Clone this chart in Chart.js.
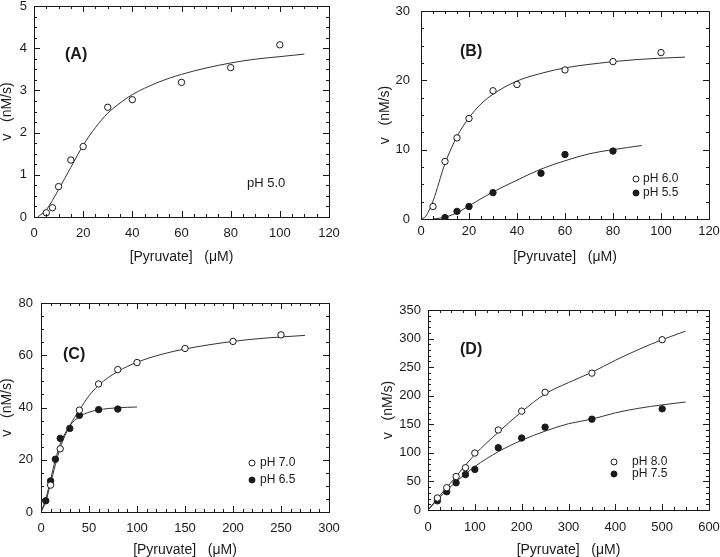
<!DOCTYPE html>
<html>
<head>
<meta charset="utf-8">
<script src="https://cdn.jsdelivr.net/npm/chart.js@4.4.1/dist/chart.umd.min.js"></script>
<style>
  body { margin: 0; background: #fff; width: 720px; height: 557px; position: relative; overflow: hidden; }
  canvas { position: absolute; }
</style>
</head>
<body>
<canvas id="chartA" width="360" height="270" style="left:0;top:0"></canvas>
<canvas id="chartB" width="360" height="270" style="left:360px;top:0"></canvas>
<canvas id="chartC" width="360" height="287" style="left:0;top:270px"></canvas>
<canvas id="chartD" width="360" height="287" style="left:360px;top:270px"></canvas>
<script>
// (A) pH 5.0
const aConc = [5, 7.5, 10, 15, 20, 30, 40, 60, 80, 100];
const aRate = [0.1, 0.22, 0.72, 1.35, 1.67, 2.6, 2.78, 3.19, 3.54, 4.08];
const aFitX = [1.5, 5, 10, 15, 20, 25, 30, 35, 40, 50, 60, 70, 80, 90, 100, 110];
const aFitY = [0, 0.17, 0.65, 1.18, 1.7, 2.12, 2.46, 2.7, 2.9, 3.18, 3.38, 3.53, 3.65, 3.74, 3.8, 3.86];

// (B) pH 6.0 (open) and pH 5.5 (filled)
const bConc60 = [5, 10, 15, 20, 30, 40, 60, 80, 100];
const bRate60 = [1.8, 8.3, 11.7, 14.5, 18.5, 19.4, 21.5, 22.7, 24.0];
const bConc55 = [10, 15, 20, 30, 50, 60, 80];
const bRate55 = [0.2, 1.1, 1.8, 3.8, 6.6, 9.3, 9.8];
const bFitX60 = [0, 2, 5, 10, 15, 20, 25, 30, 40, 50, 60, 70, 80, 90, 100, 110];
const bFitY60 = [0, 0.4, 2.6, 8.0, 11.9, 14.6, 16.6, 18.0, 19.9, 21.0, 21.8, 22.3, 22.7, 23.0, 23.2, 23.35];
const bFitX55 = [5, 10, 15, 20, 30, 40, 50, 60, 70, 80, 92];
const bFitY55 = [0, 0.25, 0.9, 1.9, 3.9, 5.6, 7.2, 8.4, 9.4, 10.0, 10.6];

// (C) pH 7.0 (open) and pH 6.5 (filled)
const cConc70 = [10, 20, 40, 60, 80, 100, 150, 200, 250];
const cRate70 = [10.3, 24.2, 39, 49, 54.5, 57.2, 62.6, 65.3, 67.8];
const cConc65 = [5, 10, 15, 20, 30, 40, 60, 80];
const cRate65 = [4.3, 11.9, 20.2, 28.2, 32, 37, 39.2, 39.4];
const cFitX70 = [0, 5, 10, 20, 30, 40, 50, 60, 80, 100, 125, 150, 175, 200, 225, 250, 275];
const cFitY70 = [0, 4, 11, 24.5, 33, 39, 44.5, 48.5, 53.8, 57.3, 60.3, 62.4, 64, 65.3, 66.3, 67, 67.6];
const cFitX65 = [0, 5, 10, 15, 20, 30, 40, 50, 60, 70, 80, 100];
const cFitY65 = [0, 5, 12.5, 20, 26, 33, 36.5, 38.2, 39.1, 39.6, 39.9, 40.2];

// (D) pH 8.0 (open) and pH 7.5 (filled)
const dConc80 = [20, 40, 60, 80, 100, 150, 200, 250, 350, 500];
const dRate80 = [21, 39, 58.6, 74, 99.7, 140, 173, 206, 239.5, 298];
const dConc75 = [20, 40, 60, 80, 100, 150, 200, 250, 350, 500];
const dRate75 = [16, 32, 47.6, 62, 71, 109, 126, 145, 159, 177];
const dFitX80 = [0, 25, 50, 100, 150, 200, 250, 300, 350, 400, 450, 500, 550];
const dFitY80 = [0, 25, 49, 97, 136, 172, 203, 223, 241, 262, 281, 298, 313];
const dFitX75 = [0, 25, 50, 100, 150, 200, 250, 300, 350, 400, 450, 500, 550];
const dFitY75 = [0, 22, 42, 76, 102, 122, 138, 151, 159, 170, 178, 184, 189];

const FONT = "'Liberation Sans', Arial, Helvetica, sans-serif";
const INK = "#1a1a1a";

function pts(xs, ys) {
    return xs.map((x, i) => ({ x: x, y: ys[i] }));
}

function markers(xs, ys, filled) {
    return {
        data: pts(xs, ys),
        showLine: false,
        pointRadius: 3.2,
        pointBorderWidth: 1,
        pointBorderColor: INK,
        pointBackgroundColor: filled ? INK : "#fff",
        order: 0
    };
}

function fitLine(xs, ys) {
    return {
        data: pts(xs, ys),
        showLine: true,
        pointRadius: 0,
        borderColor: "#333",
        borderWidth: 1,
        cubicInterpolationMode: "monotone",
        fill: false,
        order: 1
    };
}

// frame box plus inward ticks on all four sides
const frameTicks = {
    id: "frameTicks",
    afterDatasetsDraw(chart, args, opts) {
        const { ctx, chartArea: a, scales: { x, y } } = chart;
        ctx.save();
        ctx.strokeStyle = INK;
        ctx.lineWidth = 1;
        ctx.beginPath();
        const mark = (scale, step, len) => {
            const n = Math.round((scale.max - scale.min) / step);
            for (let i = 0; i <= n; i++) {
                const p = Math.round(scale.getPixelForValue(scale.min + i * step)) + 0.5;
                if (scale.isHorizontal()) {
                    ctx.moveTo(p, a.bottom); ctx.lineTo(p, a.bottom - len);
                    ctx.moveTo(p, a.top); ctx.lineTo(p, a.top + len);
                } else {
                    ctx.moveTo(a.left, p); ctx.lineTo(a.left + len, p);
                    ctx.moveTo(a.right, p); ctx.lineTo(a.right - len, p);
                }
            }
        };
        mark(x, opts.xMinor, 3);
        mark(x, x.options.ticks.stepSize, 6);
        mark(y, opts.yMinor, 3);
        mark(y, y.options.ticks.stepSize, 6);
        ctx.stroke();
        ctx.strokeRect(Math.round(a.left) + 0.5, Math.round(a.top) + 0.5,
            Math.round(a.right - a.left), Math.round(a.bottom - a.top));
        ctx.restore();
    }
};

// panel tag and small in-plot legend
const panelText = {
    id: "panelText",
    afterDraw(chart, args, opts) {
        const { ctx, chartArea: a } = chart;
        ctx.save();
        ctx.fillStyle = INK;
        ctx.textBaseline = "middle";
        ctx.font = "bold 16px " + FONT;
        ctx.fillText(opts.tag, a.left + opts.tagPos[0], a.top + opts.tagPos[1]);
        ctx.font = opts.legendSize + "px " + FONT;
        opts.legend.forEach(item => {
            const cy = a.top + item.dy;
            if (item.marker !== null) {
                ctx.beginPath();
                ctx.arc(a.left + item.mx, cy, 3, 0, Math.PI * 2);
                ctx.fillStyle = item.marker ? INK : "#fff";
                ctx.fill();
                ctx.strokeStyle = INK;
                ctx.lineWidth = 1;
                ctx.stroke();
            }
            ctx.fillStyle = INK;
            ctx.fillText(item.text, a.left + item.tx, cy);
        });
        ctx.restore();
    }
};

function makeChart(id, p) {
    const canvas = document.getElementById(id);
    const W = canvas.width, H = canvas.height;
    const titleFont = { family: FONT, size: 14, lineHeight: 1 };
    new Chart(canvas, {
        type: "scatter",
        data: { datasets: p.datasets },
        options: {
            responsive: false,
            animation: false,
            devicePixelRatio: 1,
            layout: { padding: { left: p.yTitleLeft, top: p.box.top, right: W - p.box.right, bottom: 0 } },
            plugins: {
                legend: { display: false },
                tooltip: { enabled: false },
                frameTicks: { xMinor: p.xMinor, yMinor: p.yMinor },
                panelText: p.text
            },
            scales: {
                x: {
                    type: "linear",
                    min: 0, max: p.xMax,
                    grid: { display: false, drawTicks: false },
                    border: { display: false },
                    ticks: { stepSize: p.xStep, padding: p.xTickPad, color: INK, font: { family: FONT, size: 13 }, maxRotation: 0 },
                    title: { display: true, text: "[Pyruvate]   (\u03bcM)", color: INK, font: titleFont, padding: { top: 0, bottom: p.xTitlePad } },
                    afterFit: s => { s.height = H - p.box.bottom; s.paddingLeft = 0; s.paddingRight = 0; }
                },
                y: {
                    type: "linear",
                    min: 0, max: p.yMax,
                    grid: { display: false, drawTicks: false },
                    border: { display: false },
                    ticks: { stepSize: p.yStep, padding: p.yTickPad, color: INK, font: { family: FONT, size: 13 } },
                    title: { display: true, text: "v   (nM/s)", color: INK, font: titleFont, padding: { top: 0, bottom: 0 } },
                    afterFit: s => { s.width = p.box.left - p.yTitleLeft; s.paddingTop = 0; s.paddingBottom = 0; }
                }
            }
        },
        plugins: [frameTicks, panelText]
    });
}

makeChart("chartA", {
    box: { left: 34, top: 6, right: 329, bottom: 217 },
    xMax: 120, xStep: 20, xMinor: 5, yMax: 5, yStep: 1, yMinor: 0.25,
    yTitleLeft: 0, xTickPad: 9, yTickPad: 7, xTitlePad: 6,
    datasets: [fitLine(aFitX, aFitY), markers(aConc, aRate, false)],
    text: { tag: "(A)", tagPos: [31, 49], legendSize: 13,
        legend: [{ text: "pH 5.0", marker: null, tx: 213, dy: 177 }] }
});

makeChart("chartB", {
    box: { left: 61, top: 11, right: 349, bottom: 219 },
    xMax: 120, xStep: 20, xMinor: 5, yMax: 30, yStep: 10, yMinor: 2.5,
    yTitleLeft: 18, xTickPad: 5, yTickPad: 11, xTitlePad: 6,
    datasets: [fitLine(bFitX60, bFitY60), fitLine(bFitX55, bFitY55),
        markers(bConc60, bRate60, false), markers(bConc55, bRate55, true)],
    text: { tag: "(B)", tagPos: [39, 41], legendSize: 12,
        legend: [{ text: "pH 6.0", marker: false, mx: 215, tx: 222, dy: 168 },
                 { text: "pH 5.5", marker: true, mx: 215, tx: 222, dy: 182 }] }
});

makeChart("chartC", {
    box: { left: 41, top: 33, right: 329, bottom: 242 },
    xMax: 300, xStep: 50, xMinor: 10, yMax: 80, yStep: 20, yMinor: 5,
    yTitleLeft: 0, xTickPad: 9, yTickPad: 8, xTitlePad: 0,
    datasets: [fitLine(cFitX70, cFitY70), fitLine(cFitX65, cFitY65),
        markers(cConc70, cRate70, false), markers(cConc65, cRate65, true)],
    text: { tag: "(C)", tagPos: [22, 52], legendSize: 12,
        legend: [{ text: "pH 7.0", marker: false, mx: 211, tx: 219, dy: 160 },
                 { text: "pH 6.5", marker: true, mx: 211, tx: 219, dy: 177 }] }
});

makeChart("chartD", {
    box: { left: 68, top: 40, right: 349, bottom: 240 },
    xMax: 600, xStep: 100, xMinor: 25, yMax: 350, yStep: 50, yMinor: 10,
    yTitleLeft: 21, xTickPad: 10, yTickPad: 7, xTitlePad: 0,
    datasets: [fitLine(dFitX80, dFitY80), fitLine(dFitX75, dFitY75),
        markers(dConc80, dRate80, false), markers(dConc75, dRate75, true)],
    text: { tag: "(D)", tagPos: [32, 40], legendSize: 12,
        legend: [{ text: "pH 8.0", marker: false, mx: 186, tx: 204, dy: 152 },
                 { text: "pH 7.5", marker: true, mx: 186, tx: 204, dy: 164 }] }
});
</script>
</body>
</html>
